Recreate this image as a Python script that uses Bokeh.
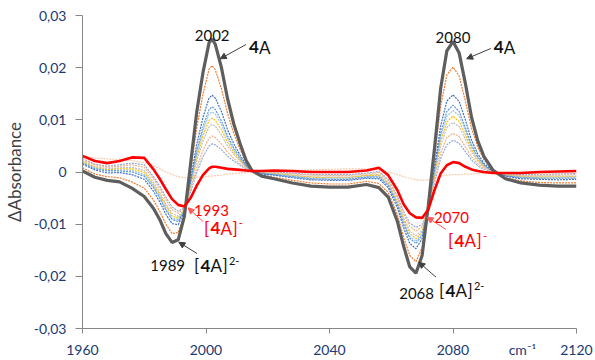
import math
from bokeh.plotting import figure
from bokeh.models import (Range1d, FixedTicker, CustomJSTickFormatter, Label,
                          Arrow, NormalHead)
from bokeh.embed import file_html
from bokeh.resources import INLINE

# ---------------- data ----------------
wavenumber = [1960, 1964, 1968, 1972, 1976, 1980, 1983, 1985, 1987, 1989,
              1991, 1993, 1995, 1997, 1999, 2001, 2002, 2003, 2005, 2007,
              2009, 2011, 2013, 2015, 2018, 2022, 2028, 2034, 2040, 2046,
              2052, 2056, 2059, 2062, 2064, 2066, 2068, 2070, 2072, 2074,
              2076, 2078, 2080, 2082, 2084, 2086, 2088, 2090, 2093, 2097,
              2102, 2108, 2114, 2120]

# final spectrum: 4A / [4A]2-  (thick grey)
final_4A = [0.0002, -0.0010, -0.0016, -0.0019, -0.0031, -0.0047, -0.0070, -0.0091, -0.0118, -0.0135,
            -0.0130, -0.0085, 0.0015, 0.0115, 0.0190, 0.0248, 0.0255, 0.0245, 0.0200, 0.0140,
            0.0092, 0.0055, 0.0022, 0.0002, -0.0008, -0.0013, -0.0021, -0.0027, -0.0029, -0.0029,
            -0.0024, -0.0030, -0.0048, -0.0095, -0.0142, -0.0182, -0.0194, -0.0160, -0.0065, 0.0045,
            0.0160, 0.0232, 0.0250, 0.0228, 0.0170, 0.0105, 0.0060, 0.0030, 0.0003, -0.0013,
            -0.0021, -0.0025, -0.0027, -0.0027]

# [4A]- spectrum (red)
anion_4A = [0.0031, 0.0021, 0.0017, 0.0021, 0.0028, 0.0027, 0.0005, -0.0013, -0.0033, -0.0052,
            -0.0063, -0.0066, -0.0050, -0.0026, -0.0006, 0.0007, 0.0010, 0.0010, 0.0008, 0.0006,
            0.0005, 0.0004, 0.0003, 0.0002, 0.0002, 0.0003, 0.0002, 0.0000, 0.0000, 0.0000,
            0.0003, 0.0008, -0.0006, -0.0035, -0.0062, -0.0079, -0.0087, -0.0088, -0.0072, -0.0035,
            -0.0003, 0.0013, 0.0019, 0.0017, 0.0010, 0.0005, 0.0002, 0.0000, -0.0002, -0.0002,
            -0.0002, 0.0000, 0.0001, 0.0002]

# intermediate spectra (thin dotted)
step_1 = [0.0008, -0.0004, -0.0009, -0.0011, -0.0019, -0.0031, -0.0054, -0.0075, -0.0100, -0.0118,
          -0.0116, -0.0081, 0.0001, 0.0085, 0.0149, 0.0197, 0.0204, 0.0196, 0.0160, 0.0112,
          0.0074, 0.0044, 0.0018, 0.0002, -0.0006, -0.0010, -0.0016, -0.0021, -0.0023, -0.0023,
          -0.0018, -0.0022, -0.0039, -0.0082, -0.0125, -0.0160, -0.0172, -0.0145, -0.0066, 0.0028,
          0.0126, 0.0186, 0.0201, 0.0184, 0.0136, 0.0084, 0.0048, 0.0024, 0.0002, -0.0011,
          -0.0017, -0.0020, -0.0021, -0.0021]
step_2 = [0.0015, 0.0004, -0.0002, -0.0001, -0.0005, -0.0014, -0.0037, -0.0057, -0.0081, -0.0099,
          -0.0101, -0.0076, -0.0014, 0.0053, 0.0104, 0.0142, 0.0147, 0.0142, 0.0116, 0.0081,
          0.0054, 0.0033, 0.0014, 0.0002, -0.0004, -0.0006, -0.0011, -0.0015, -0.0016, -0.0016,
          -0.0012, -0.0013, -0.0030, -0.0069, -0.0107, -0.0137, -0.0147, -0.0128, -0.0068, 0.0010,
          0.0088, 0.0136, 0.0148, 0.0135, 0.0100, 0.0061, 0.0035, 0.0017, 0.0001, -0.0008,
          -0.0013, -0.0014, -0.0015, -0.0014]
step_3 = [0.0017, 0.0006, 0.0002, 0.0002, 0.0000, -0.0008, -0.0030, -0.0050, -0.0073, -0.0091,
          -0.0095, -0.0074, -0.0019, 0.0040, 0.0086, 0.0120, 0.0125, 0.0120, 0.0098, 0.0069,
          0.0046, 0.0028, 0.0012, 0.0002, -0.0003, -0.0005, -0.0009, -0.0013, -0.0014, -0.0014,
          -0.0010, -0.0010, -0.0026, -0.0063, -0.0100, -0.0127, -0.0137, -0.0122, -0.0069, 0.0003,
          0.0074, 0.0116, 0.0128, 0.0116, 0.0085, 0.0052, 0.0029, 0.0014, 0.0000, -0.0007,
          -0.0011, -0.0012, -0.0012, -0.0012]
step_4 = [0.0018, 0.0008, 0.0003, 0.0004, 0.0003, -0.0005, -0.0027, -0.0047, -0.0070, -0.0088,
          -0.0092, -0.0074, -0.0022, 0.0035, 0.0078, 0.0111, 0.0115, 0.0111, 0.0091, 0.0064,
          0.0042, 0.0026, 0.0011, 0.0002, -0.0002, -0.0004, -0.0008, -0.0012, -0.0012, -0.0012,
          -0.0009, -0.0008, -0.0024, -0.0061, -0.0096, -0.0123, -0.0133, -0.0119, -0.0069, -0.0001,
          0.0067, 0.0107, 0.0118, 0.0108, 0.0079, 0.0048, 0.0027, 0.0013, 0.0000, -0.0007,
          -0.0010, -0.0011, -0.0011, -0.0010]
step_5 = [0.0020, 0.0009, 0.0004, 0.0006, 0.0006, -0.0001, -0.0024, -0.0043, -0.0065, -0.0084,
          -0.0089, -0.0073, -0.0025, 0.0028, 0.0069, 0.0099, 0.0103, 0.0099, 0.0081, 0.0057,
          0.0038, 0.0023, 0.0010, 0.0002, -0.0002, -0.0003, -0.0007, -0.0010, -0.0011, -0.0011,
          -0.0007, -0.0006, -0.0022, -0.0058, -0.0092, -0.0118, -0.0128, -0.0115, -0.0069, -0.0005,
          0.0059, 0.0096, 0.0107, 0.0097, 0.0071, 0.0043, 0.0024, 0.0011, 0.0000, -0.0006,
          -0.0009, -0.0010, -0.0010, -0.0009]
step_6 = [0.0021, 0.0011, 0.0006, 0.0008, 0.0009, 0.0003, -0.0020, -0.0039, -0.0061, -0.0079,
          -0.0085, -0.0072, -0.0029, 0.0021, 0.0059, 0.0087, 0.0091, 0.0088, 0.0071, 0.0050,
          0.0034, 0.0021, 0.0009, 0.0002, -0.0001, -0.0002, -0.0006, -0.0009, -0.0010, -0.0010,
          -0.0006, -0.0005, -0.0020, -0.0055, -0.0088, -0.0113, -0.0122, -0.0112, -0.0070, -0.0009,
          0.0051, 0.0085, 0.0095, 0.0087, 0.0063, 0.0038, 0.0021, 0.0010, 0.0000, -0.0006,
          -0.0008, -0.0008, -0.0008, -0.0008]
step_7 = [0.0024, 0.0014, 0.0009, 0.0011, 0.0014, 0.0009, -0.0013, -0.0032, -0.0053, -0.0072,
          -0.0079, -0.0070, -0.0034, 0.0008, 0.0041, 0.0065, 0.0069, 0.0066, 0.0054, 0.0038,
          0.0026, 0.0016, 0.0008, 0.0002, 0.0000, -0.0001, -0.0004, -0.0006, -0.0007, -0.0007,
          -0.0004, -0.0001, -0.0016, -0.0049, -0.0081, -0.0104, -0.0113, -0.0105, -0.0070, -0.0016,
          0.0036, 0.0066, 0.0074, 0.0068, 0.0048, 0.0029, 0.0016, 0.0007, -0.0001, -0.0005,
          -0.0007, -0.0006, -0.0006, -0.0005]
step_8 = [0.0026, 0.0015, 0.0011, 0.0014, 0.0017, 0.0014, -0.0009, -0.0027, -0.0048, -0.0067,
          -0.0075, -0.0069, -0.0038, -0.0001, 0.0029, 0.0050, 0.0054, 0.0052, 0.0043, 0.0030,
          0.0021, 0.0013, 0.0006, 0.0002, 0.0000, 0.0000, -0.0002, -0.0005, -0.0005, -0.0005,
          -0.0002, 0.0001, -0.0014, -0.0046, -0.0076, -0.0098, -0.0106, -0.0101, -0.0071, -0.0021,
          0.0026, 0.0052, 0.0061, 0.0055, 0.0039, 0.0023, 0.0012, 0.0005, -0.0001, -0.0004,
          -0.0005, -0.0005, -0.0004, -0.0003]
step_9 = [0.0030, 0.0027, 0.0025, 0.0024, 0.0022, 0.0018, 0.0012, 0.0006, 0.0000, -0.0005,
          -0.0009, -0.0011, -0.0011, -0.0010, -0.0009, -0.0008, -0.0008, -0.0007, -0.0006, -0.0004,
          -0.0003, -0.0002, -0.0001, 0.0000, 0.0001, 0.0002, 0.0003, 0.0004, 0.0005, 0.0006,
          0.0006, 0.0004, 0.0000, -0.0005, -0.0009, -0.0012, -0.0015, -0.0016, -0.0015, -0.0012,
          -0.0008, -0.0006, -0.0005, -0.0005, -0.0004, -0.0004, -0.0003, -0.0003, -0.0003, -0.0003,
          -0.0003, -0.0002, -0.0002, -0.0002]

steps = [step_9, step_8, step_7, step_6, step_5, step_4, step_3, step_2, step_1]
step_colors = ["#F8CBAD", "#8FAADC", "#F4B183", "#BFBFBF", "#FFC000",
               "#9DC3E6", "#5B9BD5", "#4472C4", "#ED7D31"]

x_ticks = [1960, 2000, 2040, 2080, 2120]
x_tick_labels = ["1960", "2000", "2040", "2080", "2120"]
x_unit_label = "cm⁻¹"
x_unit_position = 2102.5
y_ticks = [-0.03, -0.02, -0.01, 0.0, 0.01, 0.02, 0.03]
y_tick_labels = ["-0,03", "-0,02", "-0,01", "0", "0,01", "0,02", "0,03"]

final_peaks = [2002, 2080]
final_troughs = [1989, 2068]
anion_troughs = [1993, 2070]

# ---------------- figure ----------------
X0, X1, Y0, Y1 = 1960, 2120, -0.03, 0.03
W, H = 595, 360
BL, BR, BT, BB = 80, 19, 15, 32
FW, FH = W - BL - BR, H - BT - BB
kx = FW / (X1 - X0)
ky = FH / (Y1 - Y0)

p = figure(width=W, height=H, output_backend="svg", toolbar_location=None,
           x_range=Range1d(X0, X1), y_range=Range1d(Y0, Y1),
           min_border_left=BL, min_border_right=BR, min_border_top=BT,
           min_border_bottom=BB)
p.outline_line_color = None
p.xgrid.visible = False
p.ygrid.visible = False
p.background_fill_color = "white"
p.border_fill_color = "white"

navy = "#203A72"
axis_grey = "#878787"

# x axis: tick marks drawn as "minor" ticks; the unit label rides along the tick-label row
x_major = x_ticks[:4] + [x_unit_position] + x_ticks[4:]
x_labels = x_tick_labels[:4] + [x_unit_label] + x_tick_labels[4:]
p.xaxis.ticker = FixedTicker(ticks=x_major, minor_ticks=x_ticks)
p.xaxis.formatter = CustomJSTickFormatter(args=dict(t=x_major, l=x_labels), code="""
    let best = 0;
    for (let i = 0; i < t.length; i++) { if (Math.abs(t[i]-tick) < Math.abs(t[best]-tick)) best = i; }
    return l[best];
""")
p.yaxis.ticker = FixedTicker(ticks=y_ticks)
p.yaxis.formatter = CustomJSTickFormatter(args=dict(t=y_ticks, l=y_tick_labels), code="""
    let best = 0;
    for (let i = 0; i < t.length; i++) { if (Math.abs(t[i]-tick) < Math.abs(t[best]-tick)) best = i; }
    return l[best];
""")
for ax in (p.xaxis[0], p.yaxis[0]):
    ax.axis_line_color = axis_grey
    ax.axis_line_width = 1
    ax.major_tick_line_color = axis_grey
    ax.major_tick_in = 0
    ax.major_label_text_font = "Lato"
    ax.major_label_text_font_size = "14px"
    ax.major_label_text_color = navy
p.yaxis.minor_tick_line_color = None
p.xaxis.major_tick_out = 0
p.xaxis.major_tick_line_color = None
p.xaxis.minor_tick_line_color = axis_grey
p.xaxis.minor_tick_in = 0
p.xaxis.minor_tick_out = 5
p.xaxis.major_label_standoff = 7
p.yaxis.major_tick_out = 7
p.yaxis.major_label_standoff = 9
p.yaxis.axis_label = "ΔAbsorbance"
p.yaxis.axis_label_text_font = "Lato"
p.yaxis.axis_label_text_font_size = "17px"
p.yaxis.axis_label_text_font_style = "normal"
p.yaxis.axis_label_text_color = "#404040"
p.yaxis.axis_label_standoff = 6

# ---------------- curves ----------------
for ys, c in zip(steps, step_colors):
    p.line(wavenumber, ys, line_color=c, line_width=1.2, line_alpha=1.0, line_dash="2 1")
p.line(wavenumber, final_4A, line_color="#5E5E5E", line_width=3.2)
p.line(wavenumber, anion_4A, line_color="#FF0000", line_width=2.6)

# ---------------- annotations ----------------
def val(series, wn):
    return series[wavenumber.index(wn)]

def pos(anchor, dx, dy):
    # dx to the right, dy downward, in pixels
    return anchor[0] + dx / kx, anchor[1] - dy / ky

def text(anchor, dx, dy, s, color, size=15, bold=False, align="left"):
    x, y = pos(anchor, dx, dy)
    p.add_layout(Label(x=x, y=y, text=s, text_font="Lato",
                       text_font_size=f"{size}px",
                       text_font_style="bold" if bold else "normal",
                       text_color=color, text_align=align,
                       text_baseline="alphabetic"))

def arrow(anchor, s, e, color):
    xs, ys_ = pos(anchor, *s)
    xe, ye = pos(anchor, *e)
    p.add_layout(Arrow(x_start=xs, y_start=ys_, x_end=xe, y_end=ye,
                       line_color=color, line_width=1,
                       end=NormalHead(size=6, fill_color=color, line_color=color)))

def species(anchor, dx, dy, color, sup):
    text(anchor, dx, dy, "[", color, 17)
    text(anchor, dx + 6.5, dy, "4", color, 17, bold=True)
    text(anchor, dx + 16.5, dy, "A", color, 17)
    text(anchor, dx + 28.5, dy, "]", color, 17)
    text(anchor, dx + 35, dy - 5, sup, color, 11)

black = "#111111"
red = "#FF0000"
red_arrow = "#FF5A5A"
dark_arrow = "#404040"

P1 = (final_peaks[0], val(final_4A, final_peaks[0]))
P2 = (final_peaks[1], val(final_4A, final_peaks[1]))
T1 = (final_troughs[0], val(final_4A, final_troughs[0]))
T2 = (final_troughs[1], val(final_4A, final_troughs[1]))
R1 = (anion_troughs[0], val(anion_4A, anion_troughs[0]))
R2 = (anion_troughs[1], val(anion_4A, anion_troughs[1]))

text(P1, 0, -3.5, str(final_peaks[0]), black, 15, align="center")
text(P1, 37, 8.5, "4", black, 17, bold=True)
text(P1, 47, 8.5, "A", black, 17)
arrow(P1, (34, 5.5), (8.1, 19.8), dark_arrow)

text(P2, 0, -3.8, str(final_peaks[1]), black, 15, align="center")
text(P2, 41, 5.6, "4", black, 17, bold=True)
text(P2, 51, 5.6, "A", black, 17)
arrow(P2, (38, 6.9), (13.7, 17.2), dark_arrow)

text(R1, 9.7, 4.1, str(anion_troughs[0]), red, 15)
species(R1, 19.7, 21.6, red, "-")
arrow(R1, (18.7, 15.1), (3.7, 1.4), red_arrow)

text(T1, -21.9, 23.1, str(final_troughs[0]), black, 15)
species(T1, 22.1, 23.1, black, "2-")
arrow(T1, (25.1, 11.1), (6.8, -0.2), dark_arrow)

text(R2, 12, -0.7, str(anion_troughs[1]), red, 15)
species(R2, 26, 22.6, red, "-")
arrow(R2, (24, 11.6), (5, -0.7), red_arrow)

text(T2, -16.8, 20.3, str(final_troughs[1]), black, 15)
species(T2, 23.2, 17.3, black, "2-")
arrow(T2, (20.2, 4), (2.9, -11), dark_arrow)

open("out.html", "w").write(file_html(p, INLINE))
